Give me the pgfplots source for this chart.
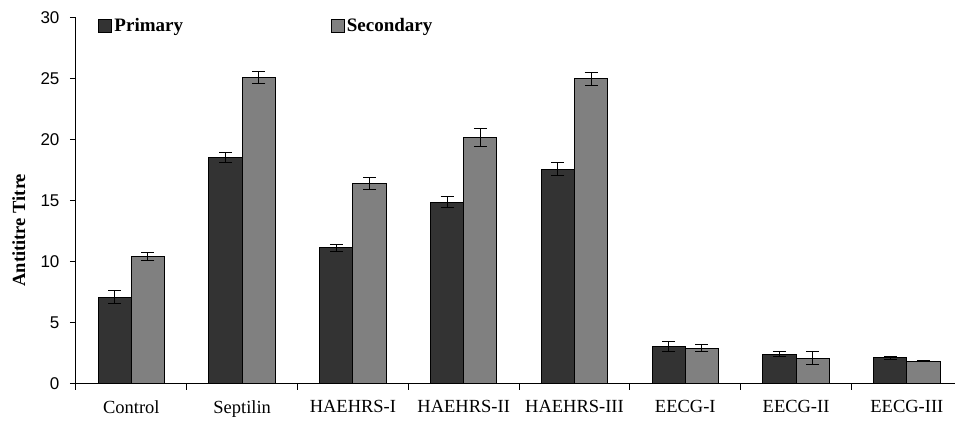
\documentclass[border=0pt]{standalone}
\usepackage{fontspec}
\setmainfont{Liberation Serif}
\newfontfamily\arial{Liberation Sans}
\usepackage{pgfplots}
\pgfplotsset{compat=1.18}
\definecolor{prim}{HTML}{333333}
\definecolor{sec}{HTML}{808080}
\begin{document}
\begin{tikzpicture}
\begin{axis}[
  width=879pt, height=366pt, scale only axis, clip=false,
  xmin=0.5, xmax=8.43, ymin=0, ymax=30,
  axis x line*=bottom, axis y line*=left,
  axis line style={-, black, line width=1pt},
  ybar=0pt, bar width=0.3,
  ytick={0,5,...,30},
  yticklabel style={font=\arial\fontsize{17}{17}\selectfont, xshift=-7pt},
  /pgf/number format/assume math mode=true,
  xtick={1,...,8},
  xticklabels={Control,Septilin,HAEHRS-I,HAEHRS-II,HAEHRS-III,EECG-I,EECG-II,EECG-III},
  xticklabel style={font=\fontsize{18.5}{18.5}\selectfont, yshift=-7pt},
  major x tick style={draw=none},
  minor xtick={0.5,1.5,...,7.5},
  tick align=outside, major tick length=6pt, minor tick length=6pt,
  tick style={black, line width=1pt},
  ylabel={\textbf{Antititre Titre}},
  ylabel style={font=\fontsize{18.5}{18.5}\selectfont, at={(axis description cs:-0.065,0.42)}, anchor=center},
  legend style={at={(axis description cs:0.022,0.978)}, anchor=west, draw=none, fill=none,
    font=\bfseries\fontsize{19}{19}\selectfont, legend columns=2,
    /tikz/every even column/.append style={column sep=146pt}},
  legend image code/.code={\draw[#1] (0pt,-6pt) rectangle (13pt,7pt);},
  error bars/y dir=both, error bars/y explicit,
  error bars/error bar style={black, line width=1pt},
  error bars/error mark options={rotate=90, mark size=6.5pt, line width=1pt, black},
]
\addplot[fill=prim, draw=black, line width=1pt] coordinates {
  (1,7.1) +- (0,0.55)
  (2,18.55) +- (0,0.4)
  (3,11.15) +- (0,0.3)
  (4,14.9) +- (0,0.45)
  (5,17.6) +- (0,0.55)
  (6,3.06) +- (0,0.4)
  (7,2.43) +- (0,0.22)
  (8,2.13) +- (0,0.1)
};
\addplot[fill=sec, draw=black, line width=1pt] coordinates {
  (1,10.45) +- (0,0.3)
  (2,25.14) +- (0,0.5)
  (3,16.4) +- (0,0.5)
  (4,20.2) +- (0,0.75)
  (5,25.0) +- (0,0.55)
  (6,2.92) +- (0,0.3)
  (7,2.1) +- (0,0.55)
  (8,1.86) +- (0,0.05)
};
\legend{Primary,Secondary}
\path (axis description cs:0,0) ++(-76pt,-37pt);
\path (axis description cs:1,1) ++(0pt,18pt);
\end{axis}
\end{tikzpicture}
\end{document}
